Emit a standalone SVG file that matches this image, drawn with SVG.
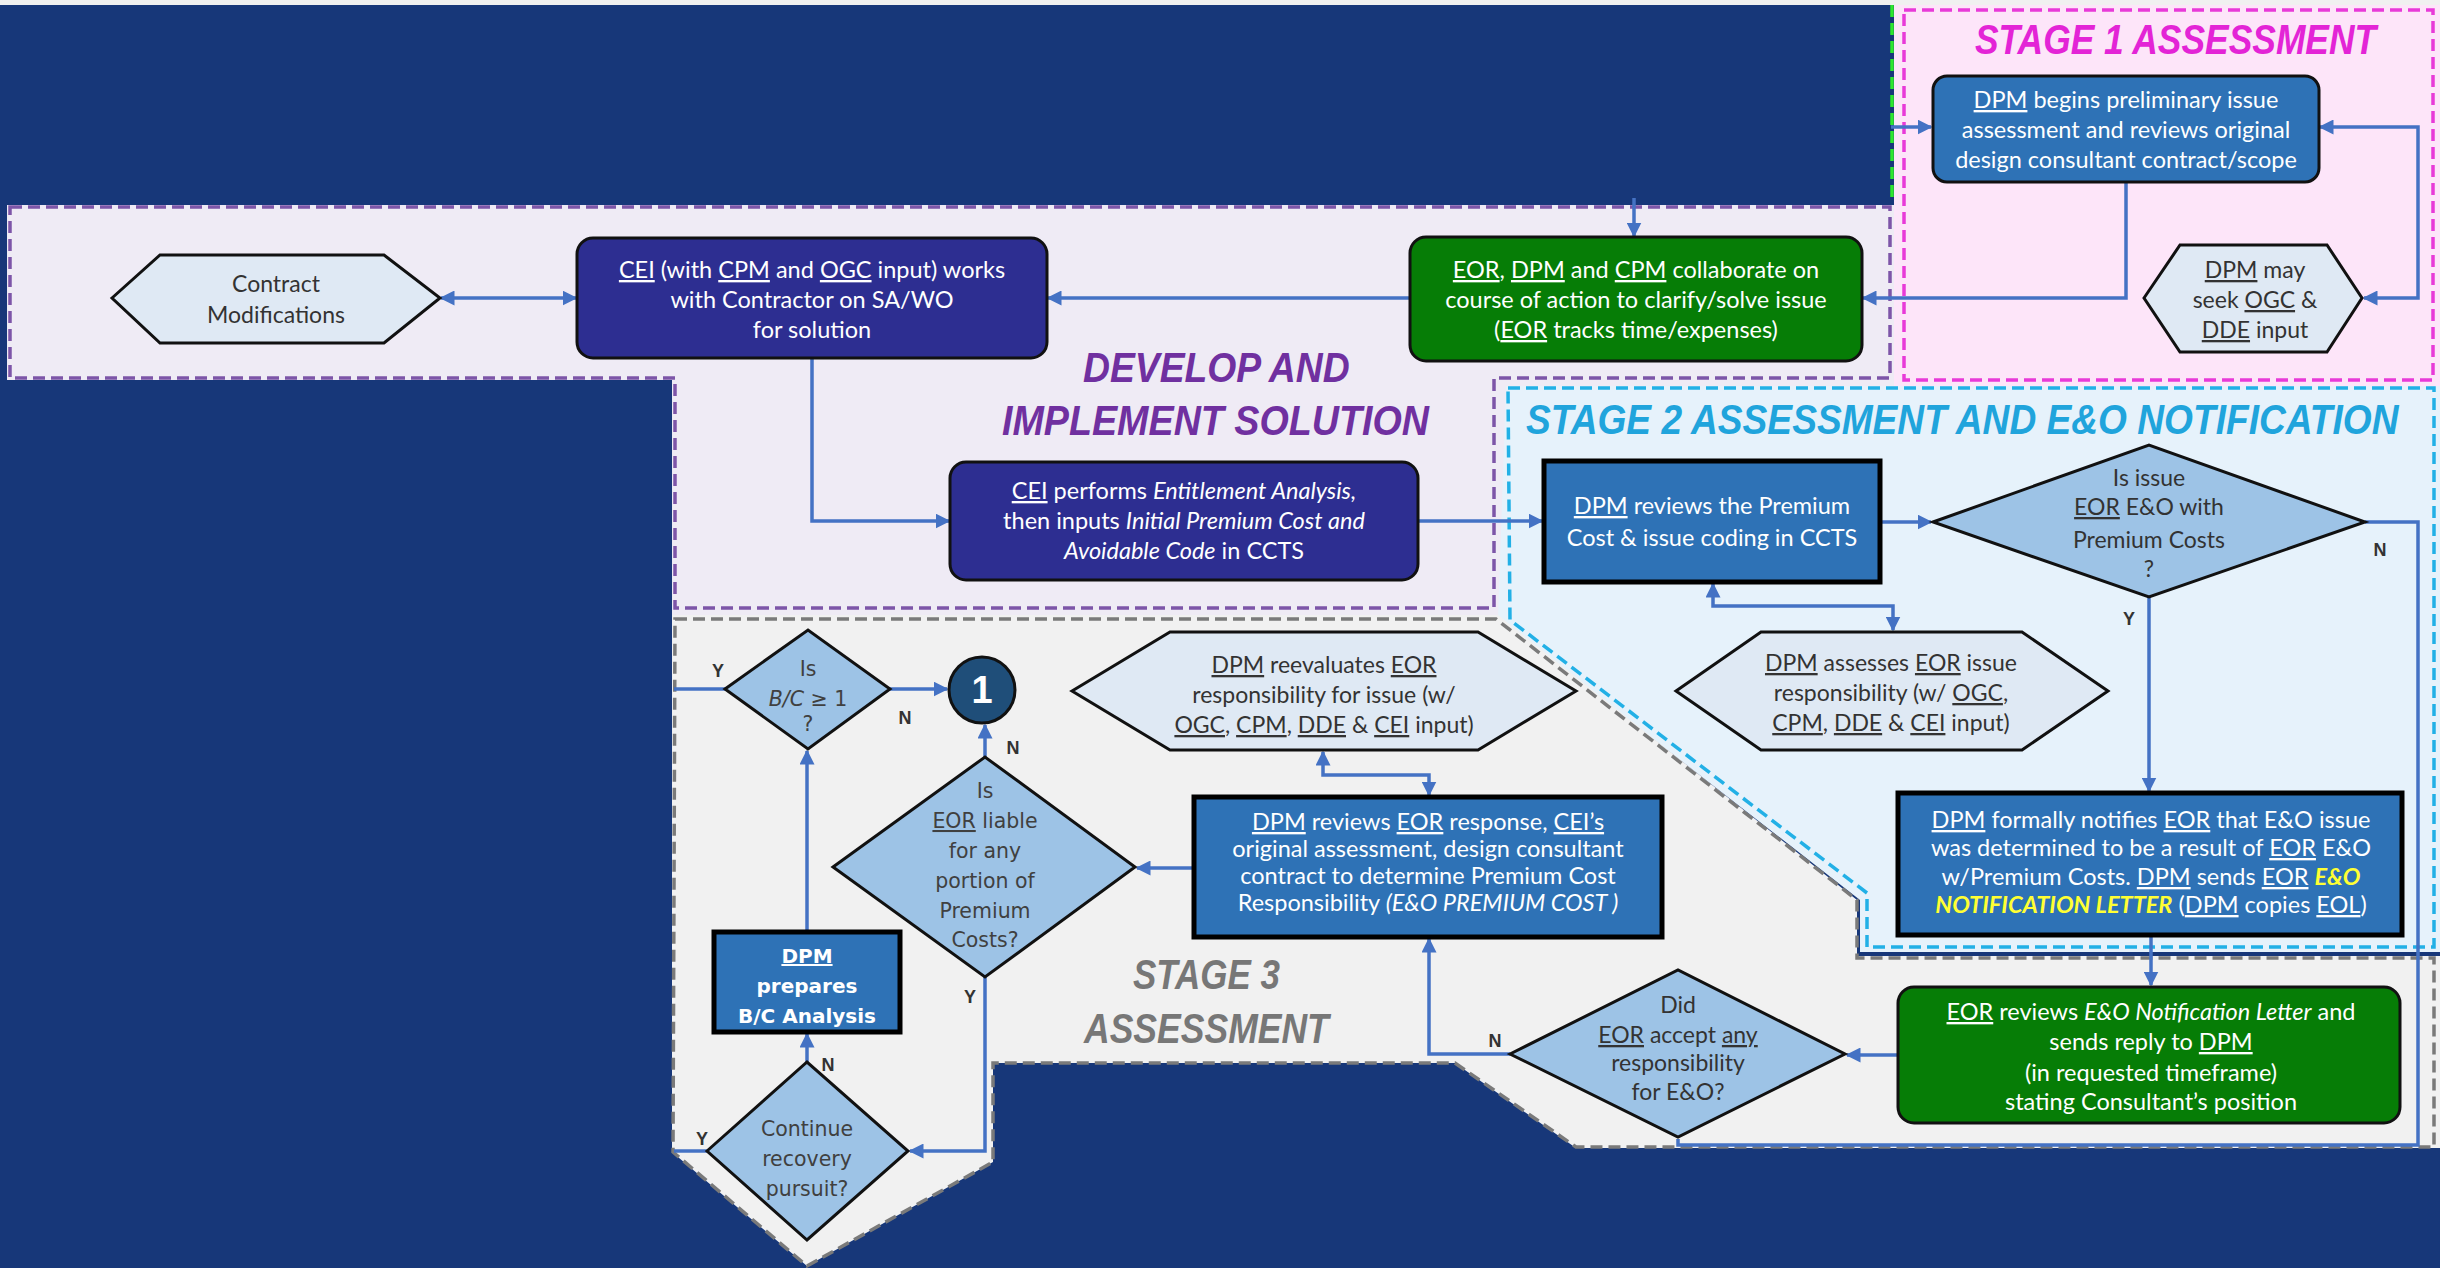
<svg xmlns="http://www.w3.org/2000/svg" width="2440" height="1268" viewBox="0 0 2440 1268">
<style>
.wt{font-family:Lato,"Liberation Sans",sans-serif;font-size:23.5px;fill:#ffffff;text-anchor:middle}
.dk{font-family:Lato,"Liberation Sans",sans-serif;font-size:23px;fill:#333333;text-anchor:middle}
.vd{font-family:"DejaVu Sans",sans-serif;font-size:20.5px;fill:#404040;text-anchor:middle}
.vw{font-family:"DejaVu Sans",sans-serif;font-size:20px;font-weight:bold;fill:#ffffff;text-anchor:middle}
.lbl{font-family:"Liberation Sans",sans-serif;font-size:18px;font-weight:bold;fill:#333333;text-anchor:middle}
.ttl{font-family:"Liberation Sans",sans-serif;font-size:42px;font-weight:bold;font-style:italic}
.u{text-decoration:underline}
.i{font-style:italic}
.y{font-style:italic;fill:#ffff33;font-weight:bold}
.blue{fill:#2e72b6;stroke:#111;stroke-width:3}
.blueT{fill:#2e72b6;stroke:#000;stroke-width:5}
.indigo{fill:#2d2e91;stroke:#111;stroke-width:3}
.green{fill:#067d06;stroke:#111;stroke-width:3}
.hex{fill:#dfe9f4;stroke:#111;stroke-width:3}
.dia{fill:#9dc3e6;stroke:#111;stroke-width:3}
.con{fill:none;stroke:#4472c4;stroke-width:3.5}
.bd{fill:none;stroke-width:3.5;stroke-dasharray:12 6}
</style>
<defs>
<marker id="ah" viewBox="0 0 10 10" refX="9" refY="5" markerWidth="15" markerHeight="15" markerUnits="userSpaceOnUse" orient="auto-start-reverse"><path d="M0,0 L10,5 L0,10 z" fill="#4472c4"/></marker>
</defs>
<rect width="2440" height="1268" fill="#173779"/>
<rect width="2440" height="5" fill="#f0f0f0"/>
<g id="regions">
<path d="M7,205 H1904 V390 H1512 V616 H672 V380 H7 Z" fill="#efebf5"/>
<rect x="1894" y="5" width="546" height="383" fill="#fde5f9"/>
<path d="M1506,386 H2440 V952 H1860 V900 L1498,618 Z" fill="#e6f2fb"/>
<path d="M672,615 H1498 L1857,900 V956 H2440 V1148 H1576 L1455,1063 H993 V1162 L807,1266 L672,1152 Z" fill="#f1f1f1"/>
<path d="M10,207 H1890 V378 H1494 V608 H675 V378 H10 Z" class="bd" stroke="#7d55a8"/>
<rect x="1904" y="10" width="529" height="370" class="bd" stroke="#e83ad8"/>
<path d="M1508,388 H2434 V947 H1867 V893 L1510,620 Z" class="bd" stroke="#22b0e6"/>
<path d="M675,619 H1496 L1857,900 V958 H2434 V1147 H1576 L1455,1063 H993 V1162 L807,1266 L673,1152 Z" class="bd" stroke="#7a7a7a"/>
<line x1="1892" y1="5" x2="1892" y2="202" class="bd" stroke="#2ee82e"/>
</g>
<g id="titles">
<text class="ttl" transform="translate(1975,54) scale(0.834,1)" x="0" y="0" textLength="481" lengthAdjust="spacingAndGlyphs" fill="#e324d6">STAGE 1 ASSESSMENT</text>
<text class="ttl" transform="translate(1526,434) scale(0.876,1)" x="0" y="0" textLength="996" lengthAdjust="spacingAndGlyphs" fill="#20a4dc">STAGE 2 ASSESSMENT AND E&amp;O NOTIFICATION</text>
<text class="ttl" transform="translate(1083,382) scale(0.88,1)" x="0" y="0" textLength="303" lengthAdjust="spacingAndGlyphs" fill="#7030a0">DEVELOP AND</text>
<text class="ttl" transform="translate(1002,435) scale(0.897,1)" x="0" y="0" textLength="476" lengthAdjust="spacingAndGlyphs" fill="#7030a0">IMPLEMENT SOLUTION</text>
<text class="ttl" transform="translate(1133,989) scale(0.817,1)" x="0" y="0" textLength="180" lengthAdjust="spacingAndGlyphs" fill="#777777">STAGE 3</text>
<text class="ttl" transform="translate(1084,1043) scale(0.847,1)" x="0" y="0" textLength="289" lengthAdjust="spacingAndGlyphs" fill="#777777">ASSESSMENT</text>
</g>
<g id="connectors">
<path class="con" d="M1891,127 H1931" marker-end="url(#ah)"/>
<path class="con" d="M2126,182 V298 H1863" marker-end="url(#ah)"/>
<path class="con" d="M2364,298 H2418 V127 H2320" marker-start="url(#ah)" marker-end="url(#ah)"/>
<path class="con" d="M1634,198 V236" marker-end="url(#ah)"/>
<path class="con" d="M1410,298 H1048" marker-end="url(#ah)"/>
<path class="con" d="M441,298 H576" marker-start="url(#ah)" marker-end="url(#ah)"/>
<path class="con" d="M812,358 V521 H949" marker-end="url(#ah)"/>
<path class="con" d="M1418,521 H1542" marker-end="url(#ah)"/>
<path class="con" d="M1880,522 H1931" marker-end="url(#ah)"/>
<path class="con" d="M1713,584 V606 H1893 V630" marker-start="url(#ah)" marker-end="url(#ah)"/>
<path class="con" d="M2149,597 V791" marker-end="url(#ah)"/>
<path class="con" d="M2365,522 H2418 V1145 H1678 V1139"/>
<path class="con" d="M2151,935 V985" marker-end="url(#ah)"/>
<path class="con" d="M1898,1055 H1847" marker-end="url(#ah)"/>
<path class="con" d="M1510,1054 H1429 V939" marker-end="url(#ah)"/>
<path class="con" d="M1194,868 H1137" marker-end="url(#ah)"/>
<path class="con" d="M1323,752 V775 H1429 V795" marker-start="url(#ah)" marker-end="url(#ah)"/>
<path class="con" d="M985,757 V725" marker-end="url(#ah)"/>
<path class="con" d="M890,689 H947" marker-end="url(#ah)"/>
<path class="con" d="M807,932 V751" marker-end="url(#ah)"/>
<path class="con" d="M807,1062 V1034" marker-end="url(#ah)"/>
<path class="con" d="M985,977 V1151 H910" marker-end="url(#ah)"/>
<path class="con" d="M707,1151 H674"/>
<path class="con" d="M725,689 H674"/>
<text class="lbl" x="2129" y="625">Y</text>
<text class="lbl" x="2380" y="556">N</text>
<text class="lbl" x="718" y="677">Y</text>
<text class="lbl" x="905" y="724">N</text>
<text class="lbl" x="1013" y="754">N</text>
<text class="lbl" x="970" y="1003">Y</text>
<text class="lbl" x="828" y="1071">N</text>
<text class="lbl" x="702" y="1145">Y</text>
<text class="lbl" x="1495" y="1047">N</text>
</g>
<g id="n-dpm-begins">
<rect x="1933" y="76" width="386" height="106" rx="14" class="blue"/>
<text class="wt" x="2126" y="108"><tspan class="u">DPM</tspan> begins preliminary issue</text>
<text class="wt" x="2126" y="138">assessment and reviews original</text>
<text class="wt" x="2126" y="168">design consultant contract/scope</text>
</g>
<g id="n-dpm-may">
<polygon points="2144,298 2180,245 2327,245 2362,298 2327,352 2180,352" class="hex"/>
<text class="dk" x="2255" y="278"><tspan class="u">DPM</tspan> may</text>
<text class="dk" x="2255" y="308">seek <tspan class="u">OGC</tspan> &amp;</text>
<text class="dk" x="2255" y="338"><tspan class="u">DDE</tspan> input</text>
</g>
<g id="n-contract-mods">
<polygon points="112,298 160,255 384,255 440,298 384,343 160,343" class="hex"/>
<text class="dk" x="276" y="292">Contract</text>
<text class="dk" x="276" y="323">Modifications</text>
</g>
<g id="n-cei-works">
<rect x="577" y="238" width="470" height="120" rx="16" class="indigo"/>
<text class="wt" x="812" y="278"><tspan class="u">CEI</tspan> (with <tspan class="u">CPM</tspan> and <tspan class="u">OGC</tspan> input) works</text>
<text class="wt" x="812" y="308">with Contractor on SA/WO</text>
<text class="wt" x="812" y="338">for solution</text>
</g>
<g id="n-eor-collab">
<rect x="1410" y="237" width="452" height="124" rx="16" class="green"/>
<text class="wt" x="1636" y="278"><tspan class="u">EOR</tspan>, <tspan class="u">DPM</tspan> and <tspan class="u">CPM</tspan> collaborate on</text>
<text class="wt" x="1636" y="308">course of action to clarify/solve issue</text>
<text class="wt" x="1636" y="338">(<tspan class="u">EOR</tspan> tracks time/expenses)</text>
</g>
<g id="n-cei-performs">
<rect x="950" y="462" width="468" height="118" rx="16" class="indigo"/>
<text class="wt" x="1184" y="499"><tspan class="u">CEI</tspan> performs <tspan class="i">Entitlement Analysis,</tspan></text>
<text class="wt" x="1184" y="529">then inputs <tspan class="i">Initial Premium Cost and</tspan></text>
<text class="wt" x="1184" y="559"><tspan class="i">Avoidable Code</tspan> in CCTS</text>
</g>
<g id="n-dpm-reviews-premium">
<rect x="1544" y="461" width="336" height="121" class="blueT"/>
<text class="wt" x="1712" y="514"><tspan class="u">DPM</tspan> reviews the Premium</text>
<text class="wt" x="1712" y="546">Cost &amp; issue coding in CCTS</text>
</g>
<g id="n-is-issue">
<polygon points="1933,522 2149,445 2365,522 2149,597" class="dia"/>
<text class="dk" x="2149" y="486">Is issue</text>
<text class="dk" x="2149" y="515"><tspan class="u">EOR</tspan> E&amp;O with</text>
<text class="dk" x="2149" y="548">Premium Costs</text>
<text class="dk" x="2149" y="577">?</text>
</g>
<g id="n-dpm-assesses">
<polygon points="1676,691 1761,632 2022,632 2108,691 2022,750 1761,750" class="hex"/>
<text class="dk" x="1891" y="671"><tspan class="u">DPM</tspan> assesses <tspan class="u">EOR</tspan> issue</text>
<text class="dk" x="1891" y="701">responsibility (w/ <tspan class="u">OGC</tspan>,</text>
<text class="dk" x="1891" y="731"><tspan class="u">CPM</tspan>, <tspan class="u">DDE</tspan> &amp; <tspan class="u">CEI</tspan> input)</text>
</g>
<g id="n-dpm-notifies">
<rect x="1898" y="793" width="504" height="142" class="blueT"/>
<text class="wt" x="2151" y="828"><tspan class="u">DPM</tspan> formally notifies <tspan class="u">EOR</tspan> that E&amp;O issue</text>
<text class="wt" x="2151" y="856">was determined to be a result of <tspan class="u">EOR</tspan> E&amp;O</text>
<text class="wt" x="2151" y="885">w/Premium Costs. <tspan class="u">DPM</tspan> sends <tspan class="u">EOR</tspan> <tspan class="y">E&amp;O</tspan></text>
<text class="wt" x="2151" y="913"><tspan class="y">NOTIFICATION LETTER</tspan> (<tspan class="u">DPM</tspan> copies <tspan class="u">EOL</tspan>)</text>
</g>
<g id="n-eor-reviews">
<rect x="1898" y="987" width="502" height="136" rx="16" class="green"/>
<text class="wt" x="2151" y="1020"><tspan class="u">EOR</tspan> reviews <tspan class="i">E&amp;O Notification Letter</tspan> and</text>
<text class="wt" x="2151" y="1050">sends reply to <tspan class="u">DPM</tspan></text>
<text class="wt" x="2151" y="1081">(in requested timeframe)</text>
<text class="wt" x="2151" y="1110">stating Consultant’s position</text>
</g>
<g id="n-did-accept">
<polygon points="1510,1054 1678,970 1845,1054 1678,1137" class="dia"/>
<text class="dk" x="1678" y="1013">Did</text>
<text class="dk" x="1678" y="1043"><tspan class="u">EOR</tspan> accept <tspan class="u">any</tspan></text>
<text class="dk" x="1678" y="1071">responsibility</text>
<text class="dk" x="1678" y="1100">for E&amp;O?</text>
</g>
<g id="n-dpm-reviews-eor">
<rect x="1194" y="797" width="468" height="140" class="blueT"/>
<text class="wt" x="1428" y="830"><tspan class="u">DPM</tspan> reviews <tspan class="u">EOR</tspan> response, <tspan class="u">CEI’s</tspan></text>
<text class="wt" x="1428" y="857">original assessment, design consultant</text>
<text class="wt" x="1428" y="884">contract to determine Premium Cost</text>
<text class="wt" x="1428" y="911">Responsibility <tspan class="i">(E&amp;O PREMIUM COST )</tspan></text>
</g>
<g id="n-dpm-reevaluates">
<polygon points="1072,691 1170,632 1478,632 1576,691 1478,750 1170,750" class="hex"/>
<text class="dk" x="1324" y="673"><tspan class="u">DPM</tspan> reevaluates <tspan class="u">EOR</tspan></text>
<text class="dk" x="1324" y="703">responsibility for issue (w/</text>
<text class="dk" x="1324" y="733"><tspan class="u">OGC</tspan>, <tspan class="u">CPM</tspan>, <tspan class="u">DDE</tspan> &amp; <tspan class="u">CEI</tspan> input)</text>
</g>
<g id="n-is-liable">
<polygon points="833,867 985,757 1135,867 985,977" class="dia"/>
<text class="vd" x="985" y="798">Is</text>
<text class="vd" x="985" y="828"><tspan class="u">EOR</tspan> liable</text>
<text class="vd" x="985" y="858">for any</text>
<text class="vd" x="985" y="888">portion of</text>
<text class="vd" x="985" y="918">Premium</text>
<text class="vd" x="985" y="947">Costs?</text>
</g>
<g id="n-is-bc">
<polygon points="725,689 808,630 890,689 808,749" class="dia"/>
<text class="vd" x="808" y="676">Is</text>
<text class="vd" x="808" y="706"><tspan class="i">B/C</tspan> ≥ 1</text>
<text class="vd" x="808" y="731">?</text>
</g>
<g id="n-connector-1">
<circle cx="982" cy="690" r="33" fill="#1f4e79" stroke="#111" stroke-width="3"/>
<text x="982" y="703" text-anchor="middle" font-family="Liberation Sans, sans-serif" font-weight="bold" font-size="38" fill="#fff">1</text>
</g>
<g id="n-dpm-bc">
<rect x="714" y="932" width="186" height="100" class="blueT"/>
<text class="vw" x="807" y="963"><tspan class="u">DPM</tspan></text>
<text class="vw" x="807" y="993">prepares</text>
<text class="vw" x="807" y="1023">B/C Analysis</text>
</g>
<g id="n-continue">
<polygon points="707,1151 807,1062 908,1151 807,1240" class="dia"/>
<text class="vd" x="807" y="1136">Continue</text>
<text class="vd" x="807" y="1166">recovery</text>
<text class="vd" x="807" y="1196">pursuit?</text>
</g>
</svg>
